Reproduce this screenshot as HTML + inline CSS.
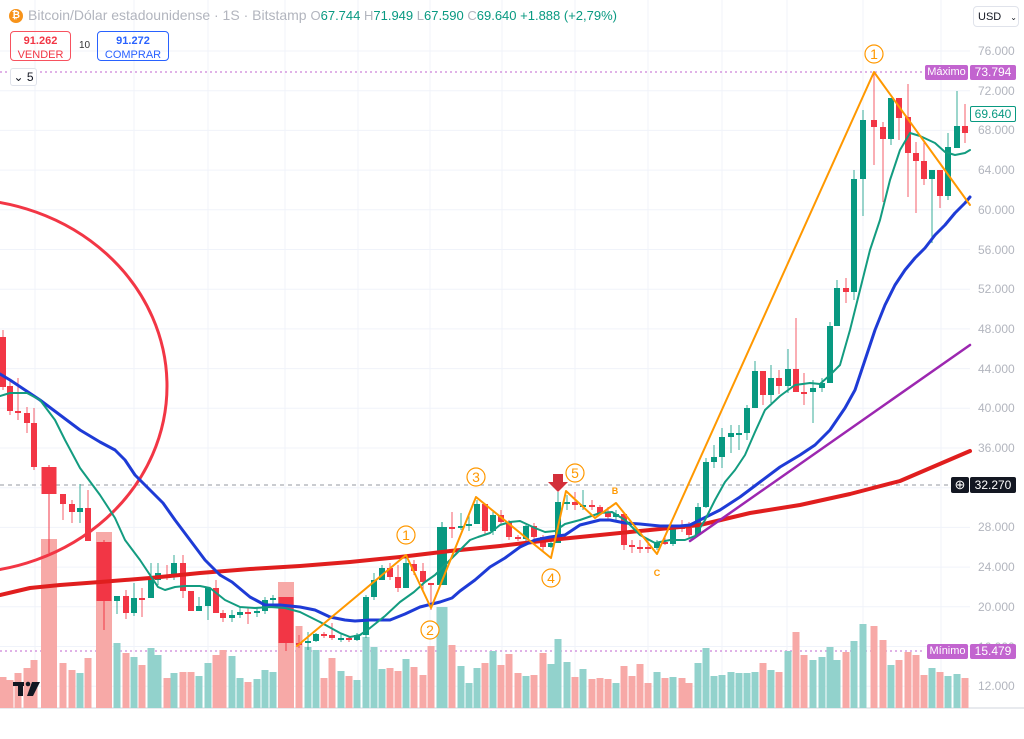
<!DOCTYPE html>
<html><head><meta charset="utf-8">
<style>
body{margin:0;background:#fff;width:1024px;height:739px;overflow:hidden;font-family:"Liberation Sans",sans-serif;position:relative}
.ax{position:absolute;left:978px;font-size:12px;color:#b2b5be}
.box{position:absolute;font-size:12px;text-align:center;box-sizing:border-box}
</style></head><body>
<svg id="s" width="1024" height="739" style="position:absolute;left:0;top:0"></svg>

<div style="position:absolute;left:9px;top:9px;width:14px;height:14px;border-radius:50%;background:#f7931a;color:#fff;font-size:10px;text-align:center;line-height:14px;font-weight:bold">₿</div>
<div style="position:absolute;left:28px;top:7px;font-size:14px;color:#b2b5be;white-space:nowrap">Bitcoin/Dólar estadounidense · 1S · Bitstamp <span style="font-size:13px">O<span style="color:#089981">67.744</span> H<span style="color:#089981">71.949</span> L<span style="color:#089981">67.590</span> C<span style="color:#089981">69.640</span> <span style="color:#089981">+1.888 (+2,79%)</span></span></div>
<div class="box" style="left:10px;top:31px;width:61px;height:30px;border:1px solid #f7525f;border-radius:4px;color:#f23645;line-height:13px;padding-top:2px"><b style="font-size:11px">91.262</b><br><span style="font-size:11px">VENDER</span></div>
<div style="position:absolute;left:79px;top:40px;font-size:10px;color:#333">10</div>
<div class="box" style="left:97px;top:31px;width:72px;height:30px;border:1px solid #2962ff;border-radius:4px;color:#2962ff;line-height:13px;padding-top:2px"><b style="font-size:11px">91.272</b><br><span style="font-size:11px">COMPRAR</span></div>
<div class="box" style="left:10px;top:68px;width:27px;height:18px;border:1px solid #e0e3eb;border-radius:3px;background:#fff;font-size:12px;line-height:17px;color:#131722">⌄ 5</div>
<div class="box" style="left:973px;top:6px;width:46px;height:21px;border:1px solid #e0e3eb;border-radius:4px;background:#fff;line-height:20px;color:#131722;text-align:left;padding-left:4px;font-size:11px">USD <span style="font-size:8px;margin-left:6px">⌄</span></div>

<div id="ax"></div>
<div class="box" style="left:925px;top:65px;width:43px;height:15px;background:#c264cf;color:#fff;line-height:15px;border-radius:2px;font-size:11px">Máximo</div>
<div class="box" style="left:970px;top:65px;width:46px;height:15px;background:#c264cf;color:#fff;line-height:15px;border-radius:2px">73.794</div>
<div class="box" style="left:970px;top:106px;width:46px;height:16px;background:#fff;border:1px solid #089981;color:#089981;line-height:14px;border-radius:2px">69.640</div>
<div class="box" style="left:951px;top:477px;width:18px;height:16px;background:#131722;color:#fff;line-height:15px;border-radius:2px;font-size:13px">⊕</div>
<div class="box" style="left:970px;top:477px;width:46px;height:16px;background:#131722;color:#fff;line-height:16px;border-radius:2px">32.270</div>
<div class="box" style="left:927px;top:644px;width:41px;height:15px;background:#c264cf;color:#fff;line-height:15px;border-radius:2px;font-size:11px">Mínimo</div>
<div class="box" style="left:970px;top:644px;width:46px;height:15px;background:#c264cf;color:#fff;line-height:15px;border-radius:2px">15.479</div>

<script>
const S=document.getElementById('s');let h='';
const Y=v=>51+(76-v)/4*39.7;
// grid
for(let v=76;v>=12;v-=4){const y=Y(v);h+=`<line x1="0" x2="970" y1="${y}" y2="${y}" stroke="#f0f3fa" stroke-width="1"/>`;}
[35,134,208,285,358,430,502,575,648,722,787,863,941].forEach(x=>h+=`<line x1="${x}" x2="${x}" y1="0" y2="708" stroke="#f0f3fa"/>`);
let ax='';for(let v=76;v>=12;v-=4){ax+=`<div class="ax" style="top:${Y(v)-7}px">${v}.000</div>`;}
document.getElementById('ax').innerHTML=ax;
h+=`<line x1="0" x2="1024" y1="708" y2="708" stroke="#d1d4dc"/>`;
h+=`<line x1="0" x2="925" y1="72" y2="72" stroke="#c264cf" stroke-dasharray="2,3"/>`;
h+=`<line x1="0" x2="925" y1="651" y2="651" stroke="#c264cf" stroke-dasharray="2,3"/>`;
h+=`<line x1="0" x2="950" y1="485" y2="485" stroke="#9598a1" stroke-dasharray="4,4"/>`;
// candles: x, top, bot, hi, lo, green, vol, width
const C=[
[3,337,387,330,390,0,677],[10,386,411,380,415,0,680],[18,411,413,378,420,0,673],[27,413,423,407,433,0,668],[34,423,467,408,470,0,660],
[49,467,494,465,553,0,539,15],[63,494,504,494,520,0,663],[72,504,512,500,523,0,670],[80,508,512,484,523,1,673],[88,508,541,490,541,0,658],
[104,542,601,540,630,0,532,15],[117,596,601,596,614,1,643],[126,596,613,590,619,0,653],[134,598,613,583,616,1,657],[142,598,599,588,617,0,665],
[151,580,598,563,598,1,648],[158,573,580,563,585,1,655],[167,575,576,565,580,0,678],[174,563,575,555,580,1,673],[183,563,591,555,598,0,672],
[191,591,611,591,611,0,672],[199,606,611,597,611,1,676],[208,588,606,588,620,1,663],[216,588,613,580,613,0,655],[223,613,618,610,622,0,650],
[232,615,618,610,622,1,656],[240,612,615,607,618,1,678],[248,612,614,607,624,0,682],[257,611,613,607,617,1,679],[265,600,611,597,614,1,670],
[273,598,599,595,608,1,672],[286,597,643,597,651,0,582,15],[299,643,644,635,648,0,626],[308,641,643,632,650,1,647],[316,634,641,633,642,1,650],
[324,634,635,632,638,0,678],[332,635,638,623,640,0,658],[341,638,639,634,642,1,671],[349,638,640,636,642,0,676],[357,635,640,633,641,1,680],
[366,597,635,595,638,1,637],[374,580,597,573,600,1,647],[382,568,580,565,580,1,669],[390,568,577,563,580,0,668],[398,577,588,565,592,0,671],
[406,563,588,557,588,1,659],[414,564,571,560,575,0,667],[423,571,582,563,590,0,675],[431,583,584,583,610,0,646],[442,527,585,522,585,1,607,10],
[452,527,528,512,538,0,645],[461,526,527,513,530,1,666],[469,524,525,514,531,1,683],[477,504,524,500,524,1,668],[485,504,531,504,535,0,663],
[493,515,531,512,535,1,651],[501,515,522,510,525,0,665],[509,522,537,520,540,0,654],[518,537,539,535,541,0,673],[526,526,539,525,541,1,676],
[534,526,537,523,545,0,675],[543,537,547,535,552,0,653],[551,543,547,540,548,1,664],[558,502,543,492,543,1,639],[567,502,503,495,510,1,662],
[575,502,505,492,510,0,677],[583,505,506,490,510,1,669],[592,505,506,500,510,0,679],[600,507,513,505,515,0,678],[608,513,517,507,520,0,679],
[616,514,517,510,520,1,683],[624,514,545,514,550,0,666],[632,545,547,540,553,0,676],[640,547,548,540,553,0,664],[648,547,548,540,553,0,683],
[657,542,548,540,550,1,672],[665,542,543,537,545,0,678],[673,527,544,525,546,1,677],[682,527,528,520,532,0,678],[689,528,535,522,538,0,683],
[698,507,535,503,535,1,663],[706,462,507,458,508,1,648],[714,457,462,445,468,1,676],[722,437,457,428,468,1,675],[731,433,437,425,453,1,672],
[739,433,434,425,450,1,673],[747,408,433,405,440,1,673],[755,371,408,361,408,1,672],[763,371,395,371,405,0,663],[771,378,395,365,403,1,670],
[779,378,386,370,394,0,672],[788,369,386,349,393,1,651],[796,369,392,318,392,0,632],[804,392,393,373,405,0,655],[813,388,392,380,423,1,660],
[822,383,388,378,392,1,657],[830,326,383,322,383,1,647],[837,288,326,280,326,1,660],[846,288,292,278,303,0,652],[854,179,292,170,300,1,641],
[863,120,179,110,216,1,624],[874,120,127,72,165,0,626],[883,127,139,122,202,0,640],[891,98,139,98,145,1,665],[899,98,118,98,140,0,660],
[908,117,153,84,197,0,652],[916,153,161,142,213,0,655],[924,161,179,142,185,0,675],[932,170,179,170,243,1,668],[940,170,196,170,208,0,672],
[948,147,196,133,200,1,676],[957,126,148,91,148,1,674],[965,126,133,104,143,0,678]];
let vb='',cb='';
C.forEach(c=>{const [x,t,b,hi,lo,g,v,w0]=c;const w=w0||6;const vw=w0?w0+1:7;
vb+=`<rect x="${x-vw/2}" y="${v}" width="${vw}" height="${708-v}" fill="${g?'#92d2cc':'#f7a9a7'}"/>`;
const col=g?'#089981':'#f23645';
cb+=`<line x1="${x}" x2="${x}" y1="${hi}" y2="${lo}" stroke="${col}" stroke-width="1" opacity="${w0?1:0.8}"/><rect x="${x-w/2}" y="${t}" width="${w}" height="${Math.max(b-t,2)}" fill="${col}"/>`;});
h+=vb;
const pl=(pts,col,w)=>`<polyline points="${pts}" fill="none" stroke="${col}" stroke-width="${w}" stroke-linejoin="round" stroke-linecap="round"/>`;
h+=`<ellipse cx="-40" cy="386" rx="207" ry="187" fill="none" stroke="#f23645" stroke-width="3"/>`;
h+=cb;
h+=pl("0,595 30,588 60,585 100,582 150,578 200,573 250,569 300,566 350,562 400,557 450,551 500,546 550,540 600,535 650,530 700,525 750,513 800,505 850,494 900,481 970,451","#e01e1e",4);
h+=pl("690,541 970,345","#9c27b0",2.5);
h+=pl("0,374 10,380 25,390 40,400 60,415 80,430 100,442 115,450 125,460 135,475 150,490 163,503 175,520 190,540 205,560 220,575 232,582 250,597 265,605 280,605 300,607 315,610 330,617 345,620 355,621 370,620 390,620 405,614 420,607 440,602 452,598 460,591 475,580 490,567 505,558 520,547 535,540 550,537 565,535 580,525 600,520 610,520 625,523 640,524 660,526 680,526 690,525 700,520 720,510 740,497 760,482 780,467 800,455 815,445 830,430 845,408 855,390 865,360 875,330 885,305 895,285 905,270 915,258 925,248 935,235 945,225 955,213 965,203 970,197","#1e3bd6",3);
h+=pl("0,396 10,393 27,393 40,400 55,420 65,440 80,468 100,495 115,518 125,540 140,560 150,575 158,587 165,590 175,587 185,586 200,586 210,588 225,600 240,607 255,608 270,607 285,608 300,612 320,622 340,633 350,637 360,635 370,628 385,616 400,602 414,592 425,582 435,575 445,565 460,550 470,540 478,537 490,533 500,525 510,522 520,521 535,528 545,532 555,531 565,524 580,520 600,513 612,512 625,520 640,535 655,543 670,540 685,540 695,536 705,520 715,500 725,482 735,470 745,455 755,432 765,410 780,396 795,385 810,383 820,384 830,375 840,365 850,330 860,290 870,250 880,220 890,180 900,150 910,133 920,136 935,143 945,152 955,155 965,153 970,150","#139c80",2);
h+=pl("297,646 406,555 431,608 476,497 551,558 566,491 595,518 616,503 657,554 874,72 970,205","#ff9800",2);
[[406,535,'1'],[430,630,'2'],[476,477,'3'],[551,578,'4'],[575,473,'5'],[874,54,'1']].forEach(([x,y,t])=>{h+=`<circle cx="${x}" cy="${y}" r="9" fill="#fff" stroke="#ff9800" stroke-width="1.2"/><text x="${x}" y="${y+5}" text-anchor="middle" font-size="14" fill="#ff9800" font-family="Liberation Sans">${t}</text>`;});
h+=`<text x="615" y="494" font-size="9" font-weight="bold" fill="#ff9800" text-anchor="middle" font-family="Liberation Sans">B</text><text x="657" y="576" font-size="9" font-weight="bold" fill="#ff9800" text-anchor="middle" font-family="Liberation Sans">C</text>`;
h+=`<polygon points="553,474 563,474 563,482 568,482 558,492 548,482 553,482" fill="#d32f3a"/>`;
// TV logo
h+=`<g fill="#131722"><rect x="13" y="682" width="11" height="4"/><rect x="18" y="682" width="5" height="14"/><circle cx="28" cy="684" r="2.3"/><polygon points="32,682 40,682 33,696 27,696"/></g>`;
S.innerHTML=h;
</script>
</body></html>
